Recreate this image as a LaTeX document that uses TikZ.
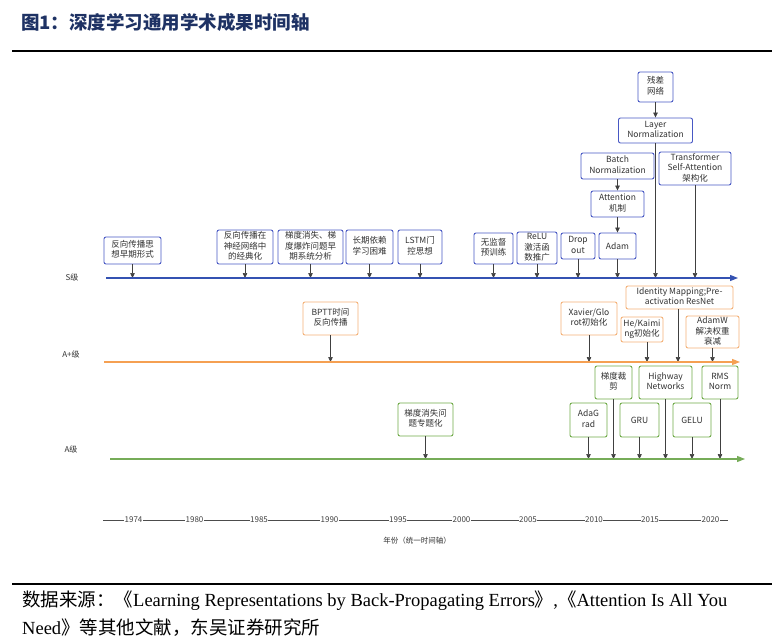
\documentclass[tikz,border=0pt]{standalone}
\usepackage{fontspec}
\setmainfont{Liberation Serif}
\newfontfamily\cjk{Noto Sans CJK SC}
\usetikzlibrary{arrows.meta}

\definecolor{sblue}{RGB}{72,88,196}
\definecolor{scol}{RGB}{52,82,178}
\definecolor{aporange}{RGB}{244,177,120}
\definecolor{apcol}{RGB}{245,160,82}
\definecolor{agreen}{RGB}{112,170,72}
\definecolor{acol}{RGB}{118,172,88}
\definecolor{titleblue}{RGB}{30,50,100}
\definecolor{txtgray}{RGB}{50,50,50}

\tikzset{
	mbox/.style={rounded corners=2pt, fill=white, line width=0.9pt, inner sep=0pt, text=txtgray, font=\cjk\fontsize{8.5}{10.5}\selectfont},
	sbox/.style={mbox, draw=sblue},
	apbox/.style={mbox, draw=aporange},
	abox/.style={mbox, draw=agreen},
	conn/.style={draw=black!75, line width=0.7pt, -{Triangle[length=5pt,width=4.5pt]}},
	lvl/.style={text=txtgray, font=\cjk\fontsize{8}{10}\selectfont},
	yr/.style={text=black!75, fill=white, inner xsep=0.5pt, inner ysep=1pt, font=\cjk\fontsize{8}{10}\selectfont},
	tline/.style={line width=1.1pt, -{Triangle[length=8pt,width=6pt]}}
}

\begin{document}
\begin{tikzpicture}[x=1pt,y=-1pt]
	\useasboundingbox (0,0) rectangle (772,642);
	\fill[white] (0,0) rectangle (772,642);

	% title and rules
	\node[anchor=west, inner sep=0pt, text=titleblue, font=\cjk\bfseries\fontsize{18.5}{20}\selectfont] (title) at (21,22) {图1：深度学习通用学术成果时间轴};
	\draw[line width=2.5pt] (12,51) -- (772,51);
	\draw[line width=2.5pt] (12,584) -- (772,584);

	% level lines
	\node[lvl] (ls) at (72,277) {S级};
	\node[lvl] (lap) at (71,354) {A+级};
	\node[lvl] (la) at (71,449) {A级};
	\coordinate (s0) at (106,278);
	\coordinate (s1) at (738,278);
	\coordinate (ap0) at (104,362);
	\coordinate (ap1) at (740,362);
	\coordinate (a0) at (110,459);
	\coordinate (a1) at (745,459);

	% S level
	\node[sbox, minimum width=57pt, minimum height=27pt] (b1) at (132.5,250.5) {\begin{tabular}{@{}c@{}}反向传播思\\想早期形式\end{tabular}};
	\node[sbox, minimum width=56pt, minimum height=34pt] (b2) at (245,247) {\begin{tabular}{@{}c@{}}反向传播在\\神经网络中\\的经典化\end{tabular}};
	\node[sbox, minimum width=65pt, minimum height=34pt] (b3) at (310.5,247) {\begin{tabular}{@{}c@{}}梯度消失、梯\\度爆炸问题早\\期系统分析\end{tabular}};
	\node[sbox, minimum width=47pt, minimum height=34pt] (b4) at (369.5,247) {\begin{tabular}{@{}c@{}}长期依赖\\学习困难\end{tabular}};
	\node[sbox, minimum width=44pt, minimum height=34pt] (b5) at (420,247) {\begin{tabular}{@{}c@{}}LSTM门\\控思想\end{tabular}};
	\node[sbox, minimum width=39pt, minimum height=31pt] (b6) at (493.5,248.5) {\begin{tabular}{@{}c@{}}无监督\\预训练\end{tabular}};
	\node[sbox, minimum width=40pt, minimum height=32pt] (b7) at (537,248) {\begin{tabular}{@{}c@{}}ReLU\\激活函\\数推广\end{tabular}};
	\node[sbox, minimum width=34pt, minimum height=26pt] (b8) at (578,246) {\begin{tabular}{@{}c@{}}Drop\\out\end{tabular}};
	\node[sbox, minimum width=37pt, minimum height=26pt] (b9) at (617.5,246) {Adam};
	\node[sbox, minimum width=53pt, minimum height=26pt] (b10) at (617.5,204) {\begin{tabular}{@{}c@{}}Attention\\机制\end{tabular}};
	\node[sbox, minimum width=73pt, minimum height=26pt] (b11) at (617.5,166) {\begin{tabular}{@{}c@{}}Batch\\Normalization\end{tabular}};
	\node[sbox, minimum width=35pt, minimum height=30pt] (b12) at (655.5,87) {\begin{tabular}{@{}c@{}}残差\\网络\end{tabular}};
	\node[sbox, minimum width=74pt, minimum height=25pt] (b13) at (655.5,130.5) {\begin{tabular}{@{}c@{}}Layer\\Normalization\end{tabular}};
	\node[sbox, minimum width=72pt, minimum height=33pt] (b14) at (695,168.5) {\begin{tabular}{@{}c@{}}Transformer\\Self-Attention\\架构化\end{tabular}};

	\draw[conn] (b1) -- (b1 |- s0);
	\draw[conn] (b2) -- (b2 |- s0);
	\draw[conn] (b3) -- (b3 |- s0);
	\draw[conn] (b4) -- (b4 |- s0);
	\draw[conn] (b5) -- (b5 |- s0);
	\draw[conn] (b6) -- (b6 |- s0);
	\draw[conn] (b7) -- (b7 |- s0);
	\draw[conn] (b8) -- (b8 |- s0);
	\draw[conn] (b9) -- (b9 |- s0);
	\draw[conn] (b11) -- (b10);
	\draw[conn] (b10) -- (b9);
	\draw[conn] (b12) -- (b13);
	\draw[conn] (b13) -- (b13 |- s0);
	\draw[conn] (b14) -- (b14 |- s0);
	\draw[tline, scol] (s0) -- (s1);

	% A+ level
	\node[apbox, minimum width=55pt, minimum height=33pt] (c1) at (330.5,318.5) {\begin{tabular}{@{}c@{}}BPTT时间\\反向传播\end{tabular}};
	\node[apbox, minimum width=56pt, minimum height=33pt] (c2) at (589,318.5) {\begin{tabular}{@{}c@{}}Xavier/Glo\\rot初始化\end{tabular}};
	\node[apbox, minimum width=42pt, minimum height=25pt] (c3) at (642,329.5) {\begin{tabular}{@{}c@{}}He/Kaimi\\ng初始化\end{tabular}};
	\node[apbox, minimum width=107pt, minimum height=23pt] (c4) at (679.5,297.5) {\begin{tabular}{@{}c@{}}Identity Mapping;Pre-\\activation ResNet\end{tabular}};
	\node[apbox, minimum width=53pt, minimum height=32pt] (c5) at (712.5,332) {\begin{tabular}{@{}c@{}}AdamW\\解决权重\\衰减\end{tabular}};

	\draw[conn] (c1) -- (c1 |- ap0);
	\draw[conn] (c2) -- (c2 |- ap0);
	\draw[conn] ([xshift=5pt]c3.south) -- ([xshift=5pt]c3.south |- ap0);
	\draw[conn] ([xshift=-1.5pt]c4.south) -- ([xshift=-1.5pt]c4.south |- ap0);
	\draw[conn] (c5) -- (c5 |- ap0);
	\draw[tline, apcol] (ap0) -- (ap1);

	% A level
	\node[abox, minimum width=55pt, minimum height=33pt] (d1) at (425.5,419.5) {\begin{tabular}{@{}c@{}}梯度消失问\\题专题化\end{tabular}};
	\node[abox, minimum width=37pt, minimum height=33pt] (d2) at (613.5,382.5) {\begin{tabular}{@{}c@{}}梯度裁\\剪\end{tabular}};
	\node[abox, minimum width=53pt, minimum height=33pt] (d3) at (665.5,382.5) {\begin{tabular}{@{}c@{}}Highway\\Networks\end{tabular}};
	\node[abox, minimum width=36pt, minimum height=33pt] (d4) at (720,382.5) {\begin{tabular}{@{}c@{}}RMS\\Norm\end{tabular}};
	\node[abox, minimum width=37pt, minimum height=34pt] (d5) at (588.5,420) {\begin{tabular}{@{}c@{}}AdaG\\rad\end{tabular}};
	\node[abox, minimum width=39pt, minimum height=34pt] (d6) at (639.5,420) {GRU};
	\node[abox, minimum width=38pt, minimum height=34pt] (d7) at (692,420) {GELU};

	\draw[conn] (d1) -- (d1 |- a0);
	\draw[conn] (d2) -- (d2 |- a0);
	\draw[conn] (d3) -- (d3 |- a0);
	\draw[conn] (d4) -- (d4 |- a0);
	\draw[conn] (d5) -- (d5 |- a0);
	\draw[conn] (d6) -- (d6 |- a0);
	\draw[conn] (d7) -- (d7 |- a0);
	\draw[tline, acol] (a0) -- (a1);

	% year axis
	\draw[black!70, line width=0.9pt] (103,520) -- (728,520);
	\node[yr] (y1974) at (133.5,520) {1974};
	\node[yr] (y1980) at (194.5,520) {1980};
	\node[yr] (y1985) at (259,520) {1985};
	\node[yr] (y1990) at (329.5,520) {1990};
	\node[yr] (y1995) at (398,520) {1995};
	\node[yr] (y2000) at (461.5,520) {2000};
	\node[yr] (y2005) at (528,520) {2005};
	\node[yr] (y2010) at (594,520) {2010};
	\node[yr] (y2015) at (650,520) {2015};
	\node[yr] (y2020) at (710.5,520) {2020};
	\node[text=txtgray, font=\cjk\fontsize{7.5}{9}\selectfont] (axcap) at (417,541) {年份（统一时间轴）};

	% source
	\node[anchor=west, inner sep=0pt, font=\fontsize{18.5}{20}\selectfont] (src1) at (22,601) {{\cjk 数据来源：《}Learning Representations by Back-Propagating Errors{\cjk 》},{\cjk 《}Attention Is All You};
	\node[anchor=west, inner sep=0pt, font=\fontsize{18.5}{20}\selectfont] (src2) at (22,628) {Need{\cjk 》等其他文献，东吴证券研究所}};
\end{tikzpicture}
\end{document}
